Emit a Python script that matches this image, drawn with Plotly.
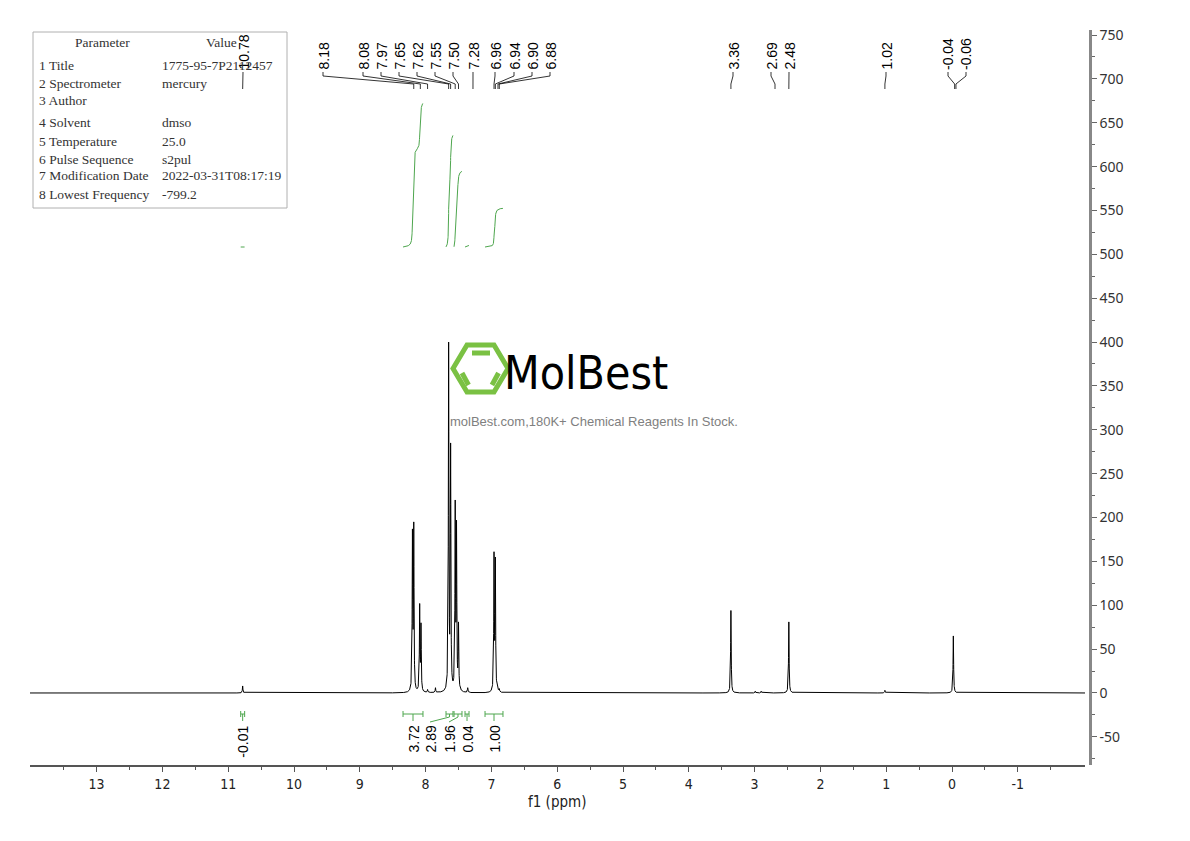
import numpy as np
import plotly.graph_objects as go

# ---------------- data ----------------
peak_ppm = [10.78, 8.20, 8.18, 8.09, 8.07, 7.97, 7.85, 7.65, 7.62, 7.55, 7.53, 7.50,
            7.47, 7.36, 6.96, 6.94, 6.90, 6.88, 3.36, 2.99, 2.90, 2.48, 1.02, -0.02]
peak_height = [8, 187, 195, 102, 80, 4, 6, 400, 285, 220, 197, 81,
               7, 6, 161, 155, 6, 5, 94, 2, 2, 81, 3, 65]

label_values = [10.78, 8.18, 8.08, 7.97, 7.65, 7.62, 7.55, 7.50, 7.28, 6.96, 6.94,
                6.90, 6.88, 3.36, 2.69, 2.48, 1.02, -0.04, -0.06]

integral_from = [10.81, 8.343, 7.690, 7.568, 7.401, 7.097]
integral_to = [10.75, 8.040, 7.584, 7.447, 7.340, 6.824]
integral_values = [-0.01, 3.72, 2.89, 1.96, 0.04, 1.00]

x_tick_values = [13, 12, 11, 10, 9, 8, 7, 6, 5, 4, 3, 2, 1, 0, -1]
y_tick_values = [-50, 0, 50, 100, 150, 200, 250, 300, 350, 400, 450, 500, 550, 600,
                 650, 700, 750]

param_names = ["1 Title", "2 Spectrometer", "3 Author", "4 Solvent", "5 Temperature",
               "6 Pulse Sequence", "7 Modification Date", "8 Lowest Frequency"]
param_values = ["1775-95-7P2112457", "mercury", "", "dmso", "25.0", "s2pul",
                "2022-03-31T08:17:19", "-799.2"]

# ---------------- layout geometry (pixels of the page) ----------------
BODY = 8                       # default page margin of the html body
W, H = 1190 - BODY, 841 - BODY
PX_L, PX_R, PY_T, PY_B = 30, 1090, 30, 765   # plot box in page pixels
ML, MR = PX_L - BODY, 1190 - PX_R
MT, MB = PY_T - BODY, 841 - PY_B
X_RIGHT_PX = 1085
X_RANGE = [14.012, -2.021]
Y_RANGE = [-82.1, 755.7]

def px2ppm(px):
    return X_RANGE[0] + (px - PX_L) / (X_RIGHT_PX - PX_L) * (X_RANGE[1] - X_RANGE[0])

def py2y(py):
    return Y_RANGE[0] + (PY_B - py) / (PY_B - PY_T) * (Y_RANGE[1] - Y_RANGE[0])

def pxp(px):
    return (px - PX_L) / (PX_R - PX_L)

def pyp(py):
    return (PY_B - py) / (PY_B - PY_T)

# label placement (pixel x of the rotated peak labels)
label_px = [243, 323, 363, 381, 399, 417, 435, 453, 473, 495, 514, 532, 550,
            733, 771, 789, 886, 948, 966]
int_label_px = [243, 413, 430, 449, 467, 492]

# ---------------- spectrum ----------------
hwhm = 0.005
pk = np.array(peak_ppm, dtype=float)
target = np.array(peak_height, dtype=float)
M = 1.0 / (1.0 + ((pk[:, None] - pk[None, :]) / hwhm) ** 2)
amps = np.linalg.solve(M, target)        # amplitudes so that summed maxima match

xg = np.union1d(np.arange(-2.03, 14.02, 0.001), pk)
yg = np.zeros_like(xg)
for p, a in zip(pk, amps):
    yg += a / (1.0 + ((xg - p) / hwhm) ** 2)

fig = go.Figure()
fig.add_trace(go.Scatter(x=xg, y=yg, mode="lines",
                         line=dict(color="black", width=1), hoverinfo="skip",
                         showlegend=False))

# ---------------- integral curves (top, green) ----------------
GREEN = "#4ea64e"
int_base = py2y(247)
int_scale = 44.0
for a, b, v in zip(integral_from, integral_to, integral_values):
    lo, hi = min(a, b), max(a, b)
    m = (xg >= lo) & (xg <= hi)
    xs = xg[m][::-1]
    ys = yg[m][::-1]
    c = np.cumsum(ys)
    if c[-1] > 0 and v > 0:
        c = c / c[-1] * v * int_scale
    else:
        c = np.zeros_like(c)
    fig.add_trace(go.Scatter(x=xs, y=int_base + c, mode="lines",
                             line=dict(color=GREEN, width=1), hoverinfo="skip",
                             showlegend=False))

# ---------------- peak labels with connectors ----------------
cx, cy = [], []
annotations = []
LFONT = dict(family="Liberation Sans, Arial", size=14, color="black")
for val, lpx in zip(label_values, label_px):
    lx = px2ppm(lpx)
    cx += [lx, lx, val, val, None]
    cy += [py2y(72), py2y(76), py2y(84), py2y(89), None]
    annotations.append(dict(x=lx, y=py2y(72), xref="x", yref="y", text=f"{val:.2f}",
                            textangle=-90, showarrow=False, xanchor="center",
                            yanchor="bottom", font=LFONT))
fig.add_trace(go.Scatter(x=cx, y=cy, mode="lines", line=dict(color="black", width=0.8),
                         hoverinfo="skip", showlegend=False))

# ---------------- integration brackets (bottom) ----------------
bx, by = [], []
for a, b, v, lpx in zip(integral_from, integral_to, integral_values, int_label_px):
    yb = py2y(714)
    bx += [a, b, None, a, a, None, b, b, None]
    by += [yb, yb, None, py2y(711), py2y(717), None, py2y(711), py2y(717), None]
    mid = 0.5 * (a + b)
    lx = px2ppm(lpx)
    if abs(lx - mid) < 0.05:
        bx += [mid, mid, None]
        by += [yb, py2y(721), None]
        lx = mid
    else:
        bx += [mid, mid, lx, None]
        by += [yb, py2y(717), py2y(722), None]
    annotations.append(dict(x=lx, y=py2y(724), xref="x", yref="y", text=f"{v:.2f}",
                            textangle=-90, showarrow=False, xanchor="center",
                            yanchor="top", font=LFONT))
fig.add_trace(go.Scatter(x=bx, y=by, mode="lines", line=dict(color=GREEN, width=1),
                         hoverinfo="skip", showlegend=False))

# ---------------- parameter table ----------------
shapes = []
shapes.append(dict(type="rect", xref="paper", yref="paper",
                   x0=pxp(33), x1=pxp(287), y0=pyp(208), y1=pyp(32),
                   line=dict(color="#b0b0b0", width=1), fillcolor="rgba(0,0,0,0)"))
TFONT = dict(family="Liberation Serif, DejaVu Serif", size=13.5, color="#333333")
annotations.append(dict(x=pxp(102), y=pyp(43), xref="paper", yref="paper",
                        text="Parameter", showarrow=False, xanchor="center",
                        yanchor="middle", font=TFONT))
annotations.append(dict(x=pxp(221), y=pyp(43), xref="paper", yref="paper",
                        text="Value", showarrow=False, xanchor="center",
                        yanchor="middle", font=TFONT))
row_py = [65, 83, 101, 123, 141, 159, 176, 194]
for n, v, ry in zip(param_names, param_values, row_py):
    annotations.append(dict(x=pxp(37), y=pyp(ry), xref="paper", yref="paper", text=n,
                            showarrow=False, xanchor="left", yanchor="middle",
                            font=TFONT))
    if v:
        annotations.append(dict(x=pxp(160), y=pyp(ry), xref="paper", yref="paper",
                                text=v, showarrow=False, xanchor="left",
                                yanchor="middle", font=TFONT))

# ---------------- watermark ----------------
LOGO = "#7ac143"
hexv = [(453, 368.5), (467, 345), (494, 345), (508, 368.5), (494, 392), (467, 392)]
path = "M " + " L ".join(f"{pxp(x):.5f},{pyp(y):.5f}" for x, y in hexv) + " Z"
shapes.append(dict(type="path", xref="paper", yref="paper", path=path,
                   line=dict(color=LOGO, width=5)))
for (x0, y0, x1, y1) in [(472, 353, 490, 353), (462, 373, 468.5, 385),
                         (492, 385, 498.5, 373)]:
    shapes.append(dict(type="line", xref="paper", yref="paper",
                       x0=pxp(x0), y0=pyp(y0), x1=pxp(x1), y1=pyp(y1),
                       line=dict(color=LOGO, width=5)))
annotations.append(dict(x=pxp(586), y=pyp(373), xref="paper", yref="paper",
                        text="MolBest", showarrow=False, xanchor="center",
                        yanchor="middle",
                        font=dict(family="Liberation Sans Narrow, DejaVu Sans Condensed, Liberation Sans",
                                  size=46, color="black")))
annotations.append(dict(x=pxp(594), y=pyp(421), xref="paper", yref="paper",
                        text="molBest.com,180K+ Chemical Reagents In Stock.",
                        showarrow=False, xanchor="center", yanchor="middle",
                        font=dict(family="Liberation Sans, Arial", size=13,
                                  color="#808080")))

# x-axis title as annotation (tight placement)
NARROW = "Liberation Sans Narrow, DejaVu Sans Condensed, Liberation Sans"
annotations.append(dict(x=6, y=pyp(802), xref="x", yref="paper", text="f1 (ppm)",
                        showarrow=False, xanchor="center", yanchor="middle",
                        font=dict(family=NARROW, size=15, color="#222222")))

minor_x = [v + 0.5 for v in x_tick_values] + [x_tick_values[-1] - 0.5]

fig.update_layout(
    width=W, height=H,
    margin=dict(l=ML, r=MR, t=MT, b=MB, pad=0),
    paper_bgcolor="white", plot_bgcolor="white",
    showlegend=False,
    shapes=shapes,
    annotations=annotations,
    xaxis=dict(range=X_RANGE, domain=[0, (X_RIGHT_PX - PX_L) / (PX_R - PX_L)],
               showline=True, linecolor="#555555", linewidth=1.5,
               ticks="outside", ticklen=5, tickwidth=1, tickcolor="#555555",
               tickmode="array", tickvals=x_tick_values,
               ticktext=[str(v) for v in x_tick_values],
               minor=dict(tickmode="array", tickvals=minor_x, ticklen=3,
                          ticks="outside", tickcolor="#555555"),
               showgrid=False, zeroline=False,
               tickfont=dict(family=NARROW, size=14, color="#222222")),
    yaxis=dict(range=Y_RANGE, side="right", anchor="free", position=1,
               showline=True, linecolor="#888888", linewidth=2.5,
               ticks="outside", ticklen=5, tickwidth=1, tickcolor="#666666",
               tickmode="array", tickvals=y_tick_values,
               ticktext=[str(v) for v in y_tick_values],
               minor=dict(dtick=25, ticklen=3, ticks="outside", tickcolor="#666666"),
               showgrid=False, zeroline=False,
               tickfont=dict(family="Noto Sans, Open Sans", size=14, color="#333333")),
)

fig.write_html("out.html")
